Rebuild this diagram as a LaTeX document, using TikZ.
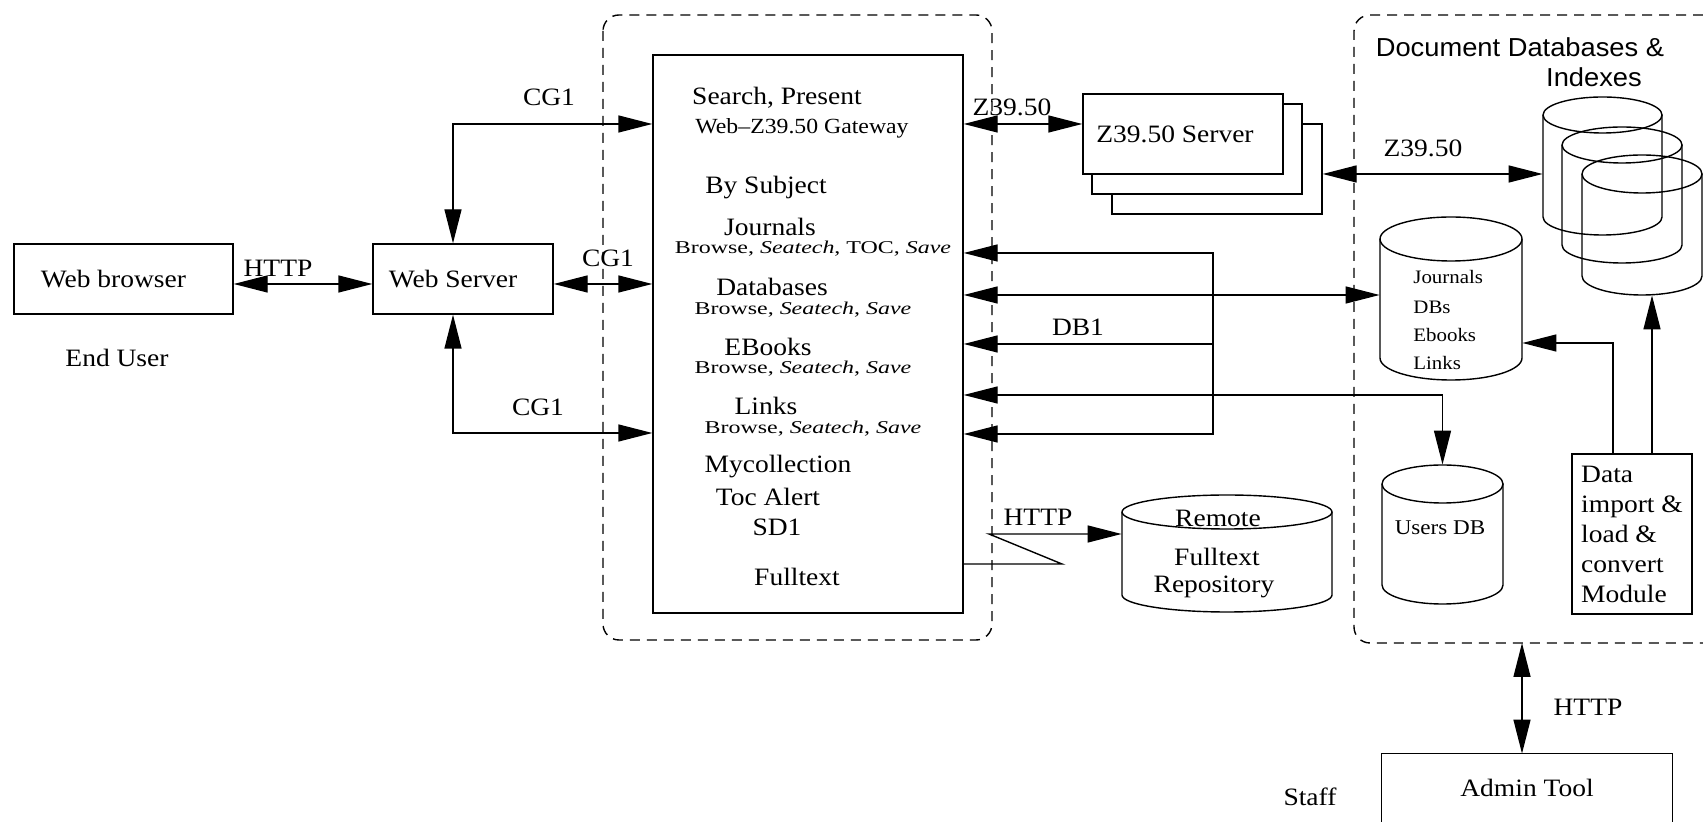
\documentclass[tikz,border=0pt]{standalone}
\usepackage{fontspec}
\setmainfont{Liberation Serif}[FakeStretch=1.1]
\newfontfamily\smallser{Liberation Serif}[FakeStretch=1.33]
\newfontfamily\sansf{Liberation Sans}[FakeStretch=1.05]
\usetikzlibrary{arrows.meta,calc}
\tikzset{
  line/.style={line width=0.7pt},
  box/.style={draw, line, inner sep=0, fill=white},
  txt/.style={inner sep=0, font=\fontsize{12.5}{15}\selectfont},
  smalltxt/.style={inner sep=0, font=\smallser\fontsize{9}{11}\selectfont},
  gatetxt/.style={inner sep=0, font=\fontsize{10.8}{13}\selectfont},
  dbtxt/.style={inner sep=0, anchor=west, font=\fontsize{9.5}{12}\selectfont},
  sanstxt/.style={inner sep=0, font=\sansf\fontsize{13}{16}\selectfont},
  arr/.style={line, -{Triangle[length=17pt,width=8.5pt]}},
  dbl/.style={line, {Triangle[length=17pt,width=8.5pt]}-{Triangle[length=17pt,width=8.5pt]}},
  dashbox/.style={line, dash pattern=on 5pt off 3.5pt, rounded corners=8pt},
  cylbox/.style={inner sep=0, draw=none}
}
% name, x1, y1, x2, y2, ry (all in px)
\newcommand\dbcyl[6]{%
  \node[cylbox, minimum width={(#4-#2)*0.5pt}, minimum height={(#5-#3)*0.5pt}] (#1) at ({(#2+#4)/2},{(#3+#5)/2}) {};
  \draw[line] ({(#2+#4)/2},{#3+#6}) ellipse [x radius={(#4-#2)*0.25pt}, y radius={#6*0.5pt}];
  \draw[line] (#2,{#3+#6}) -- (#2,{#5-#6}) arc [start angle=180, end angle=360, x radius={(#4-#2)*0.25pt}, y radius={#6*0.5pt}] -- (#4,{#3+#6});
}
\begin{document}
\begin{tikzpicture}[x=0.5pt, y=-0.5pt]
\useasboundingbox (0,0) rectangle (1703,822);
\fill[white] (0,0) rectangle (1703,822);

% dashed group frames
\draw[dashbox] (603,15) rectangle (992,640);
\draw[dashbox] (1703,15) -- (1354,15) -- (1354,643) -- (1703,643);

% boxes
\node[box, txt, minimum width=109.5pt, minimum height=35pt] (wb) at (123.5,279) {Web browser\hspace*{10pt}};
\node[box, txt, minimum width=90pt, minimum height=35pt] (ws) at (463,279) {Web Server\hspace*{10pt}};
\node[box, minimum width=155pt, minimum height=279pt] (main) at (808,334) {};
\node[box, minimum width=105pt, minimum height=45pt] (z3) at (1217,169) {};
\node[box, minimum width=105pt, minimum height=45pt] (z2) at (1197,149) {};
\node[box, txt, minimum width=100pt, minimum height=40pt] (z1) at (1183,134) {\raisebox{-2.5pt}{Z39.50 Server}\hspace*{8pt}};
\node[box, txt, minimum width=60pt, minimum height=80pt, align=left] (data) at (1632,534) {Data\\import \&\\load \&\\convert\\Module};
\node[cylbox, txt, minimum width=145pt, minimum height=34pt] (admin) at (1527,788) {Admin Tool};
\draw[line] (admin.south west) |- (admin.north east) -- (admin.south east);

% cylinders
\dbcyl{c1}{1543}{97}{1662}{235}{18}
\dbcyl{c2}{1562}{127}{1682}{263}{18}
\dbcyl{c3}{1582}{155}{1702}{295}{19}
\dbcyl{jdb}{1380}{217}{1522}{380}{22}
\dbcyl{users}{1382}{465}{1503}{604}{19}
\dbcyl{rem}{1122}{495}{1332}{612}{17}

% texts in main box
\node[txt] (t1) at (777,98) {Search, Present};
\node[gatetxt] (t2) at (802,128) {Web–Z39.50 Gateway};
\node[txt] (t3) at (766,188) {By Subject};
\node[txt] (t4) at (770,227) {Journals};
\node[smalltxt] (t5) at (813,249) {Browse, \textit{Seatech}, TOC, \textit{Save}};
\node[txt] (t6) at (772,287) {Databases};
\node[smalltxt] (t7) at (803,310) {Browse, \textit{Seatech}, \textit{Save}};
\node[txt] (t8) at (768,347) {EBooks};
\node[smalltxt] (t9) at (803,369) {Browse, \textit{Seatech}, \textit{Save}};
\node[txt] (t10) at (766,406) {Links};
\node[smalltxt] (t11) at (813,429) {Browse, \textit{Seatech}, \textit{Save}};
\node[txt] (t12) at (778,467) {Mycollection};
\node[txt] (t13) at (768,497) {Toc Alert};
\node[txt] (t14) at (777,527) {SD1};
\node[txt] (t15) at (797,577) {Fulltext};

% other texts
\node[txt] (enduser) at (117,358) {End User};
\node[txt] (lhttp1) at (278,268) {HTTP};
\node[txt] (lcg1) at (549,97) {CG1};
\node[txt] (lcg2) at (608,258) {CG1};
\node[txt] (lcg3) at (538,407) {CG1};
\node[txt] (lz1) at (1012,107) {Z39.50};
\node[txt] (lz2) at (1423,148) {Z39.50};
\node[txt] (ldb1) at (1078,327) {DB1};
\node[txt] (lhttp2) at (1038,517) {HTTP};
\node[txt] (lhttp3) at (1588,707) {HTTP};
\node[txt] (staff) at (1310,797) {Staff};
\node[sanstxt] (title1) at (1520,47) {Document Databases \&};
\node[sanstxt] (title2) at (1594,77) {Indexes};
\node[txt] (rm1) at (1218,518) {Remote};
\node[txt] (rm2) at (1217,557) {Fulltext};
\node[txt] (rm3) at (1214,587) {Repository};
\node[dbtxt] (jd1) at (1413,277) {Journals};
\node[dbtxt] (jd2) at (1413,307) {DBs};
\node[dbtxt] (jd3) at (1413,335) {Ebooks};
\node[dbtxt] (jd4) at (1413,363) {Links};
\node[txt, font=\fontsize{10.5}{13}\selectfont] (ud) at (1440,528) {Users DB};

% coordinates
\coordinate (cgT) at (453,124);
\coordinate (cgB) at (453,433);
\coordinate (yM) at (0,284);
\coordinate (yZ) at (0,124);
\coordinate (yZ2) at (0,174);
\coordinate (yD) at (0,295);
\coordinate (yU) at (0,395);
\coordinate (busT) at (1213,253);
\coordinate (busM) at (1213,344);
\coordinate (busB) at (1213,434);
\coordinate (brkA) at (1062,564);
\coordinate (brkB) at (989,534);
\coordinate (dJ) at (1613,343);
\coordinate (xC) at (1652,0);
\coordinate (rbB) at (1522,643);

% connectors
\draw[dbl] (wb.east |- yM) -- (ws.west |- yM);
\draw[dbl] (ws.east |- yM) -- (main.west |- yM);
\draw[dbl] (ws.north -| cgT) -- (cgT) -- (main.west |- cgT);
\draw[dbl] (ws.south -| cgB) -- (cgB) -- (main.west |- cgB);
\draw[dbl] (main.east |- yZ) -- (z1.west |- yZ);
\draw[dbl] (z3.east |- yZ2) -- (c1.west |- yZ2);
\draw[dbl] (main.east |- busT) -- (busT) -- (busB) -- (main.east |- busB);
\draw[arr] (busM) -- (main.east |- busM);
\draw[dbl] (main.east |- yD) -- (jdb.west |- yD);
\draw[dbl] (main.east |- yU) -- (users.north |- yU) -- (users.north);
\draw[arr] (main.east |- brkA) -- (brkA) -- (brkB) -- (rem.west |- brkB);
\draw[arr] (data.north -| dJ) -- (dJ) -- (jdb.east |- dJ);
\draw[arr] (data.north -| xC) -- (xC |- c3.south);
\draw[dbl] (rbB) -- (rbB |- admin.north);
\end{tikzpicture}
\end{document}
